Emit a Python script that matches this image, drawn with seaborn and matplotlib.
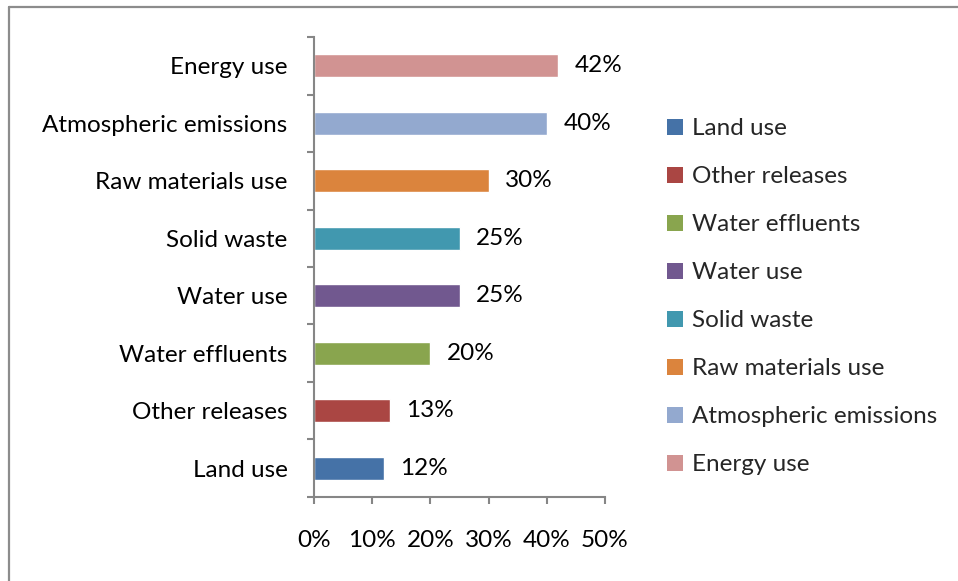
import matplotlib
matplotlib.use("Agg")
import matplotlib.pyplot as plt
from matplotlib.lines import Line2D
from matplotlib.patches import Patch
import pandas as pd
import seaborn as sns

# Data (top-to-bottom order as shown in the chart)
categories = ['Energy use', 'Atmospheric emissions', 'Raw materials use',
              'Solid waste', 'Water use', 'Water effluents',
              'Other releases', 'Land use']
values = [42, 40, 30, 25, 25, 20, 13, 12]
bar_colors = ['#D19392', '#93A9CF', '#DB843D', '#4198AF',
              '#71588F', '#89A54E', '#AA4643', '#4572A7']
x_ticks = [0, 10, 20, 30, 40, 50]

sns.set_style('white')
plt.rcParams['font.family'] = ['Lato', 'DejaVu Sans']
fs = 17.5

df = pd.DataFrame({'cat': categories, 'val': values})
palette = dict(zip(categories, bar_colors))

fig = plt.figure(figsize=(9.58, 5.81), dpi=100)
ax = fig.add_axes([0.3278, 0.1446, 0.6315 - 0.3278, 0.9363 - 0.1446])

sns.barplot(data=df, y='cat', x='val', hue='cat', palette=palette,
            order=categories, hue_order=categories, orient='h',
            width=0.4, saturation=1, legend=False, ax=ax)

# Value labels
for cont in ax.containers:
    ax.bar_label(cont, labels=[f'{int(v)}%' for v in cont.datavalues],
                 padding=12, fontsize=fs, color='black')

# Axes styling
axis_c = '#868686'
ax.set_xlim(0, 50)
ax.set_ylim(len(categories) - 0.5, -0.5)
ax.set_xticks(x_ticks)
ax.set_xticklabels([f'{t}%' for t in x_ticks])
ax.set_yticks(range(len(categories)))
ax.set_yticklabels(categories)
ax.set_yticks([i - 0.5 for i in range(len(categories) + 1)], minor=True)
ax.set_xlabel('')
ax.set_ylabel('')
for side in ['top', 'right']:
    ax.spines[side].set_visible(False)
for side in ['left', 'bottom']:
    ax.spines[side].set_color(axis_c)
    ax.spines[side].set_linewidth(1.5)
ax.tick_params(axis='y', which='major', length=0, pad=19,
               labelsize=fs, labelcolor='black')
ax.tick_params(axis='y', which='minor', length=5, width=1.5,
               color=axis_c, direction='out', left=True)
ax.tick_params(axis='x', which='major', length=5, width=1.5,
               color=axis_c, direction='out', bottom=True, pad=19,
               labelsize=fs, labelcolor='black')

# Legend (reverse order, bottom category first)
handles = [Patch(facecolor=c, edgecolor='none') for c in bar_colors[::-1]]
fig.legend(handles, categories[::-1], loc='upper left',
           bbox_to_anchor=(0.686, 0.813), frameon=False, fontsize=fs,
           handlelength=0.65, handleheight=0.65, handletextpad=0.4,
           labelspacing=1.11, borderaxespad=0)

# Outer chart frame (left and top edges visible)
frame_c = '#8C8C8C'
fig.add_artist(Line2D([9 / 958, 9 / 958], [0, 1 - 7 / 581],
                      transform=fig.transFigure, color=frame_c, lw=1.6))
fig.add_artist(Line2D([9 / 958, 1], [1 - 7 / 581, 1 - 7 / 581],
                      transform=fig.transFigure, color=frame_c, lw=1.6))

fig.savefig('out.png', dpi=100)
